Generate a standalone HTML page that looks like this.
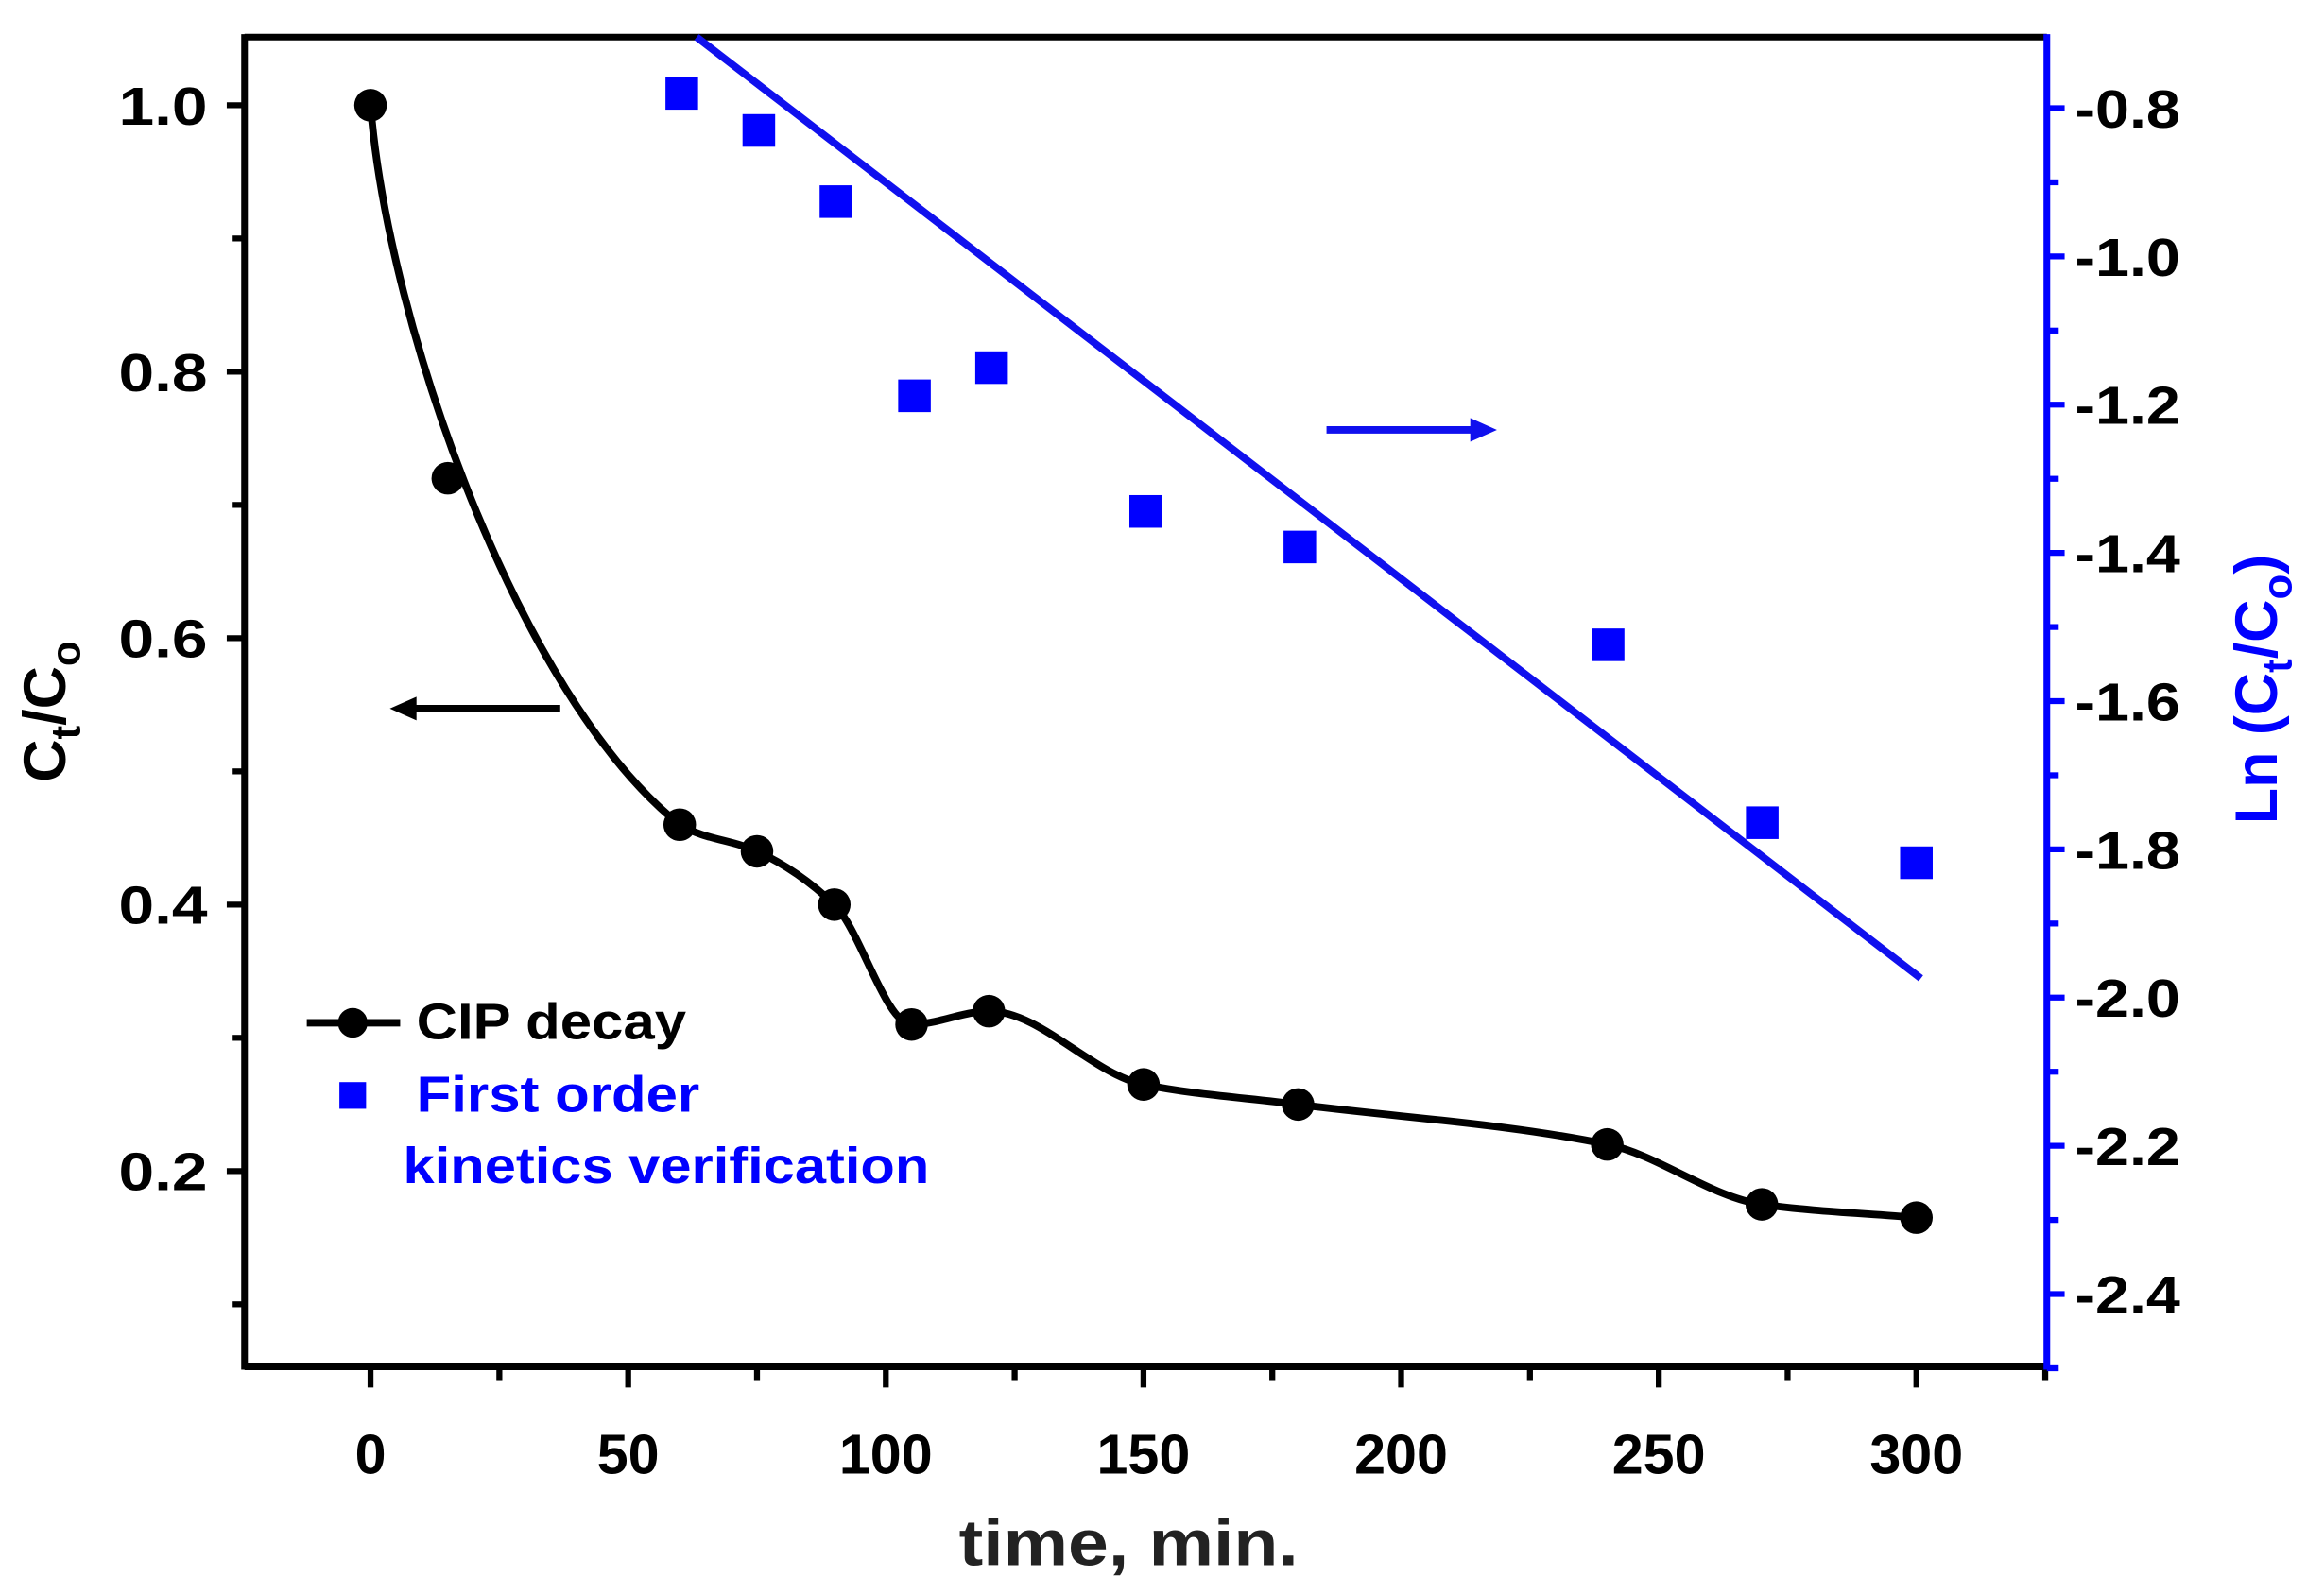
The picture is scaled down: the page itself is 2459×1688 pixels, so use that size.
<!DOCTYPE html>
<html><head><meta charset="utf-8"><style>
html,body{margin:0;padding:0;background:#fff;}
svg{display:block;}
text{font-family:"Liberation Sans",Arial,sans-serif;font-weight:bold;}
</style></head><body>
<svg id="s" width="2459" height="1688" viewBox="0 0 1568 1076" preserveAspectRatio="none" xmlns="http://www.w3.org/2000/svg">
<rect width="1568" height="1076" fill="#fff"/>
<g id="ticks"></g>
<line x1="165" y1="25" x2="1381" y2="25" stroke="#000" stroke-width="4.5"/>
<line x1="165" y1="922" x2="1381" y2="922" stroke="#000" stroke-width="4.5"/>
<line x1="165" y1="23" x2="165" y2="924" stroke="#000" stroke-width="4.5"/>
<line x1="1381" y1="23" x2="1381" y2="924" stroke="#0000ff" stroke-width="4.5"/>
<line x1="470" y1="25" x2="1296" y2="660" stroke="#1010ee" stroke-width="5"/>
<path id="curve" d="" fill="none" stroke="#000" stroke-width="5"/>
<g id="pts"></g>
<line x1="378" y1="478" x2="275" y2="478" stroke="#000" stroke-width="5"/>
<polygon points="263,478 281,470 281,486" fill="#000"/>
<line x1="895" y1="290" x2="998" y2="290" stroke="#1010ee" stroke-width="5"/>
<polygon points="1010,290 992,282 992,298" fill="#1010ee"/>
<line x1="207" y1="690" x2="270" y2="690" stroke="#000" stroke-width="5"/>
<circle cx="238" cy="690" r="10" fill="#000"/>
<text x="281" y="701" font-size="34" textLength="182" lengthAdjust="spacingAndGlyphs" fill="#000">CIP decay</text>
<rect x="229" y="730" width="18" height="18" fill="#0000ff"/>
<text x="281" y="750" font-size="34" textLength="191" lengthAdjust="spacingAndGlyphs" fill="#0000ff">First order</text>
<text x="272" y="798" font-size="34" textLength="355" lengthAdjust="spacingAndGlyphs" fill="#0000ff">kinetics verification</text>
<text x="647" y="1056" font-size="44" textLength="229" lengthAdjust="spacingAndGlyphs" fill="#222">time, min.</text>
<text transform="translate(44,480) rotate(-90)" font-size="40" text-anchor="middle" fill="#000">C<tspan font-size="28" dy="10">t</tspan><tspan dy="-10">/C</tspan><tspan font-size="28" dy="10">o</tspan></text>
<text transform="translate(1536,465) rotate(-90)" font-size="40" text-anchor="middle" fill="#0000ff">Ln (C<tspan font-size="28" dy="10">t</tspan><tspan dy="-10">/C</tspan><tspan font-size="28" dy="10">o</tspan><tspan dy="-10">)</tspan></text>
</svg>
<script>
var NS="http://www.w3.org/2000/svg";
function el(t,a,p){var e=document.createElementNS(NS,t);for(var k in a)e.setAttribute(k,a[k]);if(p)p.appendChild(e);return e;}
var tg=document.getElementById('ticks');
function X(t){return 250+t*3.4767;}
function YL(v){return 71+(1-v)*898.75;}
function YR(v){return 73+(-0.8-v)*500;}
for(var t=-25;t<=325;t+=25){var x=X(t);if(x<164||x>1382)continue;var maj=(t%50===0);
 el('line',{x1:x,y1:922,x2:x,y2:922+(maj?14:9),stroke:'#000','stroke-width':4},tg);
 if(maj&&t>=0){var s=String(t);var tx=el('text',{x:x,y:994,'font-size':38,'text-anchor':'middle',textLength:s.length*21,lengthAdjust:'spacingAndGlyphs',fill:'#000'},tg);tx.textContent=s;}}
for(var i=1;i<=10;i++){var v=i/10,y=YL(v);var maj=(i%2===0);
 el('line',{x1:165,y1:y,x2:165-(maj?12:8),y2:y,stroke:'#000','stroke-width':4},tg);
 if(maj){var tx=el('text',{x:80,y:y+13,'font-size':36,textLength:60,lengthAdjust:'spacingAndGlyphs',fill:'#000'},tg);tx.textContent=v.toFixed(1);}}
for(var i=7;i<=25;i++){var v=-i/10,y=YR(v);if(y<24||y>923)continue;var maj=(i%2===0);
 el('line',{x1:1381,y1:y,x2:1381+(maj?12:8),y2:y,stroke:'#0000ff','stroke-width':4},tg);
 if(maj){var tx=el('text',{x:1400,y:y+13,'font-size':36,textLength:71,lengthAdjust:'spacingAndGlyphs',fill:'#000'},tg);tx.textContent=v.toFixed(1);}}
var d=[[0,1],[15,.72],[60,.46],[75,.44],[90,.40],[105,.31],[120,.32],[150,.265],[180,.25],[240,.22],[270,.175],[300,.165]];
var P=d.map(function(a){return [X(a[0]),YL(a[1])];});
var e=d.slice(2),n=e.length,xs=e.map(function(a){return a[0]}),ys=e.map(function(a){return a[1]});
var dl=[],m=[];
for(var i=0;i<n-1;i++)dl.push((ys[i+1]-ys[i])/(xs[i+1]-xs[i]));
m[n-1]=dl[n-2];
for(var i=1;i<n-1;i++){if(dl[i-1]*dl[i]<=0)m[i]=0;else{var w1=2*(xs[i+1]-xs[i])+(xs[i]-xs[i-1]),w2=(xs[i+1]-xs[i])+2*(xs[i]-xs[i-1]);m[i]=(w1+w2)/(w1/dl[i-1]+w2/dl[i]);}}
m[0]=-0.0023;
var s="M250,71 C262,220 350,470 "+P[2][0]+","+P[2][1];
for(var i=0;i<n-1;i++){var h=xs[i+1]-xs[i];
 var c1x=xs[i]+h/3,c1y=ys[i]+m[i]*h/3,c2x=xs[i+1]-h/3,c2y=ys[i+1]-m[i+1]*h/3;
 s+=" C"+X(c1x)+","+YL(c1y)+" "+X(c2x)+","+YL(c2y)+" "+X(xs[i+1])+","+YL(ys[i+1]);}
document.getElementById('curve').setAttribute('d',s);
var pg=document.getElementById('pts');
P.forEach(function(p){el('circle',{cx:p[0],cy:p[1],r:11,fill:'#000'},pg);});
var B=[[460,63],[512,88],[564,136],[617,267],[669,248],[773,345],[877,369],[1085,435],[1189,555],[1293,582]];
B.forEach(function(b){el('rect',{x:b[0]-11,y:b[1]-11,width:22,height:22,fill:'#0000ff'},pg);});
</script>
</body></html>
